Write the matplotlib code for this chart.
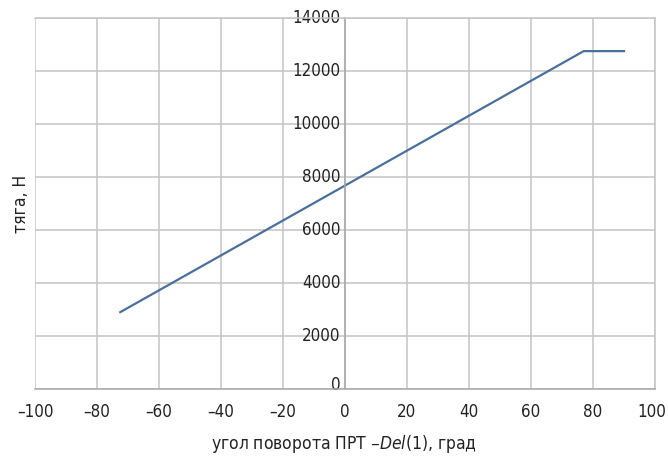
import matplotlib
matplotlib.use("Agg")
from matplotlib import pyplot as plt
from matplotlib import transforms

# data
angle = [-72.5, 77, 90]
thrust = [2900, 12750, 12750]
xticks = [-100, -80, -60, -40, -20, 0, 20, 40, 60, 80, 100]
yticks = [0, 2000, 4000, 6000, 8000, 10000, 12000, 14000]

plt.rcParams['font.family'] = ['DejaVu Sans']
plt.rcParams['font.stretch'] = 'condensed'

fig = plt.figure(figsize=(6.68, 4.57), dpi=100)
ax = fig.add_axes([35/668, 1 - 389/457, 620/668, 371/457])

ax.plot(angle, thrust, color='#4a6f9c', lw=1.6)

ax.set_xlim(-100, 100)
ax.set_ylim(0, 14000)
ax.set_xticks(xticks)
ax.set_yticks(yticks)
ax.set_xticklabels([str(v).replace('-', '\u2013') for v in xticks])
ax.grid(True, color='#c4c4c4', lw=1.1)
ax.set_axisbelow(True)

ax.spines['left'].set_position(('data', 0))
for s in ['right', 'top', 'bottom']:
    ax.spines[s].set_color('#c4c4c4')
    ax.spines[s].set_linewidth(1.1)
ax.spines['bottom'].set_color('#a8a8a8')
ax.spines['left'].set_color('#a8a8a8')
ax.spines['left'].set_linewidth(1.1)
ax.tick_params(axis='both', length=0, labelsize=12.2, colors='#222222')
ax.tick_params(axis='x', pad=10)
ax.tick_params(axis='y', pad=3)

# y labels sit slightly above their grid lines, the 0 a bit more
ylabs = ax.get_yticklabels()
for lab in ylabs:
    lab.set_transform(lab.get_transform() + transforms.ScaledTranslation(0, 2/100, fig.dpi_scale_trans))
ylabs[0].set_transform(ylabs[0].get_transform() + transforms.ScaledTranslation(0, 4/100, fig.dpi_scale_trans))
xlabs = ax.get_xticklabels()
xlabs[-1].set_transform(xlabs[-1].get_transform() + transforms.ScaledTranslation(-3/100, 0, fig.dpi_scale_trans))

fig.text(21/668, 1 - 204/457, 'тяга, Н', rotation=90, ha='center', va='center',
         fontsize=12.5, color='#222222')
fig.text(344/668, 1 - 444/457, r'угол поворота ПРТ –$\it{Del}$(1), град',
         ha='center', va='center', fontsize=12.5, color='#222222')

fig.savefig('out.png', dpi=100)
